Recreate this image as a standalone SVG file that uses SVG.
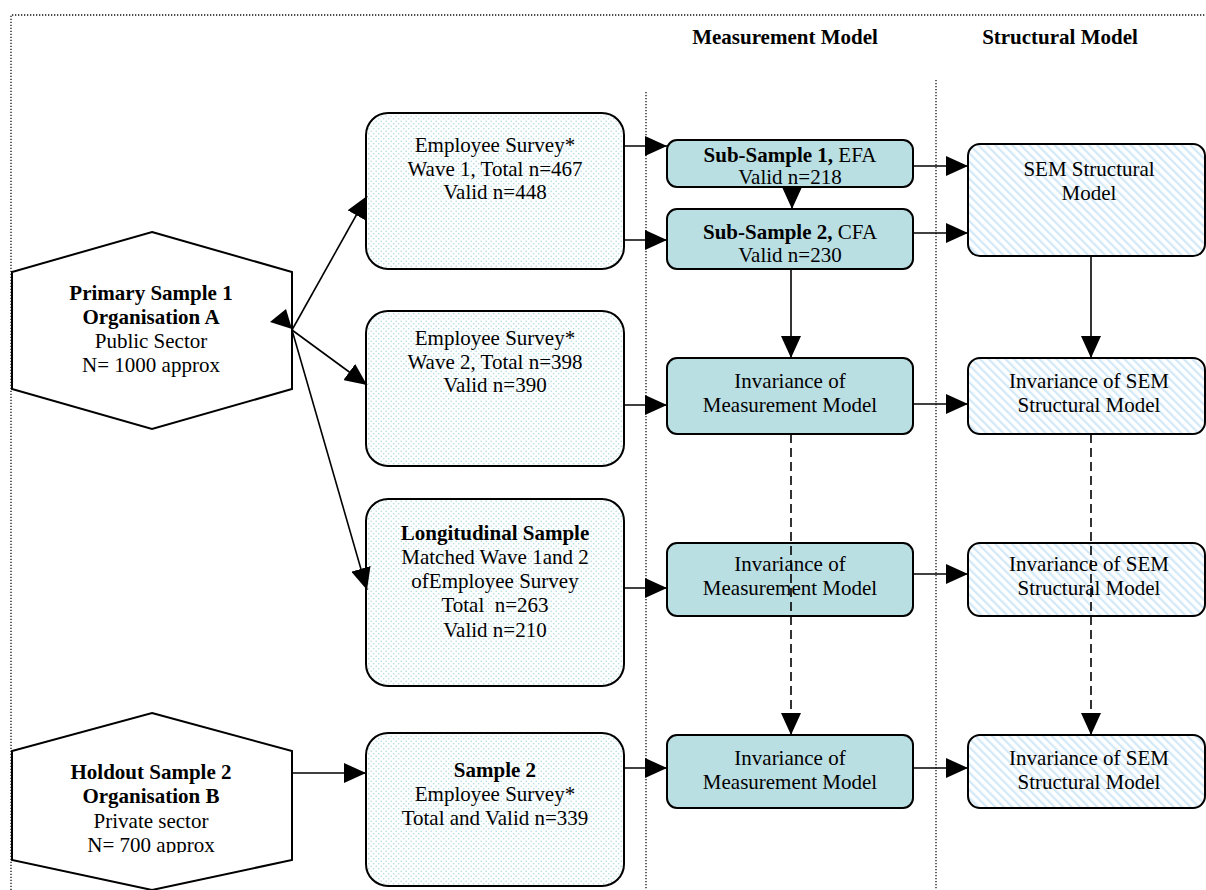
<svg xmlns="http://www.w3.org/2000/svg" width="1206" height="890" viewBox="0 0 1206 890">
  <defs>
    <!-- light dotted fill for the survey sample boxes -->
    <pattern id="dots" width="5" height="5" patternUnits="userSpaceOnUse">
      <rect width="5" height="5" fill="#ffffff"/>
      <circle cx="1.2" cy="1.2" r="0.8" fill="#b0dbe0"/>
      <circle cx="3.7" cy="3.7" r="0.8" fill="#b0dbe0"/>
    </pattern>
    <!-- diagonal hatch for the structural model boxes -->
    <pattern id="hatch" width="6" height="6" patternUnits="userSpaceOnUse" patternTransform="rotate(-45)">
      <rect width="6" height="6" fill="#ffffff"/>
      <rect width="2.3" height="6" fill="#d3e9f8"/>
    </pattern>
    <marker id="arrow" markerUnits="userSpaceOnUse" markerWidth="22" markerHeight="20" refX="22" refY="10" orient="auto">
      <path d="M0,0 L22,10 L0,20 Z" fill="#000"/>
    </marker>
    <clipPath id="clipHoldout">
      <rect x="0" y="0" width="300" height="853"/>
    </clipPath>
    <style>
      text { font-family: "Liberation Serif", "Times New Roman", serif; font-size: 21px; fill: #000; text-anchor: middle; }
      .b { font-weight: bold; }
      .frame { fill: none; stroke: #111; stroke-width: 1.3; stroke-dasharray: 1.3 1.7; }
      .survey { fill: url(#dots); stroke: #000; stroke-width: 2; }
      .meas { fill: #badfe3; stroke: #000; stroke-width: 2; }
      .struct { fill: url(#hatch); stroke: #000; stroke-width: 2; }
      .hex { fill: #ffffff; stroke: #000; stroke-width: 2; }
      .conn { fill: none; stroke: #000; stroke-width: 1.6; marker-end: url(#arrow); }
      .dash { stroke-dasharray: 9 5; }
    </style>
  </defs>

  <rect width="1206" height="890" fill="#ffffff"/>

  <!-- outer frame and column dividers -->
  <g id="frame">
    <path class="frame" d="M11,890 L11,15 L1206,15"/>
    <line class="frame" x1="646" y1="92" x2="646" y2="890"/>
    <line class="frame" x1="936" y1="80" x2="936" y2="890"/>
  </g>

  <!-- column headers -->
  <g id="headers">
    <text class="b" x="785" y="44">Measurement Model</text>
    <text class="b" x="1060" y="44">Structural Model</text>
  </g>

  <!-- sample sources -->
  <g id="primary-sample">
    <polygon class="hex" points="152,232 292,272 292,389 152,429 12,389 12,272"/>
    <text class="b" x="151" y="300">Primary Sample 1</text>
    <text class="b" x="151" y="324">Organisation A</text>
    <text x="151" y="348">Public Sector</text>
    <text x="151" y="372">N= 1000 approx</text>
  </g>
  <g id="holdout-sample">
    <polygon class="hex" points="152,713 292,751 292,860 152,890 12,860 12,751"/>
    <g clip-path="url(#clipHoldout)">
      <text class="b" x="151" y="779">Holdout Sample 2</text>
      <text class="b" x="151" y="803">Organisation B</text>
      <text x="151" y="828">Private sector</text>
      <text x="151" y="852">N= 700 approx</text>
    </g>
  </g>

  <!-- survey boxes -->
  <g id="survey-wave1">
    <rect class="survey" x="366" y="113" width="258" height="156" rx="22"/>
    <text x="495" y="152">Employee Survey*</text>
    <text x="495" y="176">Wave 1, Total n=467</text>
    <text x="495" y="199">Valid n=448</text>
  </g>
  <g id="survey-wave2">
    <rect class="survey" x="366" y="311" width="258" height="155" rx="22"/>
    <text x="495" y="345">Employee Survey*</text>
    <text x="495" y="369">Wave 2, Total n=398</text>
    <text x="495" y="392">Valid n=390</text>
  </g>
  <g id="longitudinal">
    <rect class="survey" x="366" y="499" width="258" height="187" rx="22"/>
    <text class="b" x="495" y="540">Longitudinal Sample</text>
    <text x="495" y="564">Matched Wave 1and 2</text>
    <text x="495" y="588">ofEmployee Survey</text>
    <text x="495" y="612" xml:space="preserve">Total  n=263</text>
    <text x="495" y="637">Valid n=210</text>
  </g>
  <g id="sample2">
    <rect class="survey" x="366" y="733" width="258" height="153" rx="22"/>
    <text class="b" x="495" y="777">Sample 2</text>
    <text x="495" y="801">Employee Survey*</text>
    <text x="495" y="825">Total and Valid n=339</text>
  </g>

  <!-- measurement model boxes -->
  <g id="subsample1">
    <rect class="meas" x="667" y="140" width="246" height="47" rx="10"/>
    <text x="790" y="162"><tspan class="b">Sub-Sample 1,</tspan> EFA</text>
    <text x="790" y="184">Valid n=218</text>
  </g>
  <g id="subsample2">
    <rect class="meas" x="667" y="209" width="246" height="60" rx="10"/>
    <text x="790" y="239"><tspan class="b">Sub-Sample 2,</tspan> CFA</text>
    <text x="790" y="262">Valid n=230</text>
  </g>
  <g id="invariance-meas-1">
    <rect class="meas" x="667" y="358" width="246" height="76" rx="10"/>
    <text x="790" y="388">Invariance of</text>
    <text x="790" y="412">Measurement Model</text>
  </g>
  <g id="invariance-meas-2">
    <rect class="meas" x="667" y="543" width="246" height="73" rx="10"/>
    <text x="790" y="571">Invariance of</text>
    <text x="790" y="595">Measurement Model</text>
  </g>
  <g id="invariance-meas-3">
    <rect class="meas" x="667" y="735" width="246" height="73" rx="10"/>
    <text x="790" y="765">Invariance of</text>
    <text x="790" y="789">Measurement Model</text>
  </g>

  <!-- structural model boxes -->
  <g id="sem-structural">
    <rect class="struct" x="968" y="144" width="237" height="112" rx="12"/>
    <text x="1089" y="176">SEM Structural</text>
    <text x="1089" y="200">Model</text>
  </g>
  <g id="invariance-sem-1">
    <rect class="struct" x="968" y="358" width="237" height="76" rx="12"/>
    <text x="1089" y="388">Invariance of SEM</text>
    <text x="1089" y="412">Structural Model</text>
  </g>
  <g id="invariance-sem-2">
    <rect class="struct" x="968" y="543" width="237" height="73" rx="12"/>
    <text x="1089" y="571">Invariance of SEM</text>
    <text x="1089" y="595">Structural Model</text>
  </g>
  <g id="invariance-sem-3">
    <rect class="struct" x="968" y="735" width="237" height="73" rx="12"/>
    <text x="1089" y="765">Invariance of SEM</text>
    <text x="1089" y="789">Structural Model</text>
  </g>

  <!-- connectors -->
  <g id="connectors">
    <line class="conn" x1="292" y1="330" x2="367" y2="196"/>
    <line class="conn" x1="292" y1="330" x2="367" y2="385"/>
    <line class="conn" x1="292" y1="330" x2="367" y2="590"/>
    <polygon points="270,322 286,309 292,329" fill="#000"/>
    <line class="conn" x1="292" y1="773" x2="366" y2="773"/>

    <line class="conn" x1="624" y1="146" x2="667" y2="146"/>
    <line class="conn" x1="624" y1="240" x2="667" y2="240"/>
    <line class="conn" x1="624" y1="405" x2="667" y2="405"/>
    <line class="conn" x1="624" y1="588" x2="667" y2="588"/>
    <line class="conn" x1="624" y1="768" x2="667" y2="768"/>

    <line class="conn" x1="792" y1="187" x2="792" y2="209"/>
    <line class="conn" x1="791" y1="269" x2="791" y2="358"/>
    <line class="conn dash" x1="791" y1="434" x2="791" y2="735"/>

    <line class="conn" x1="913" y1="166" x2="968" y2="166"/>
    <line class="conn" x1="913" y1="233" x2="968" y2="233"/>
    <line class="conn" x1="913" y1="404" x2="968" y2="404"/>
    <line class="conn" x1="913" y1="574" x2="968" y2="574"/>
    <line class="conn" x1="913" y1="768" x2="968" y2="768"/>

    <line class="conn" x1="1091" y1="256" x2="1091" y2="358"/>
    <line class="conn dash" x1="1091" y1="434" x2="1091" y2="735"/>
  </g>
</svg>
